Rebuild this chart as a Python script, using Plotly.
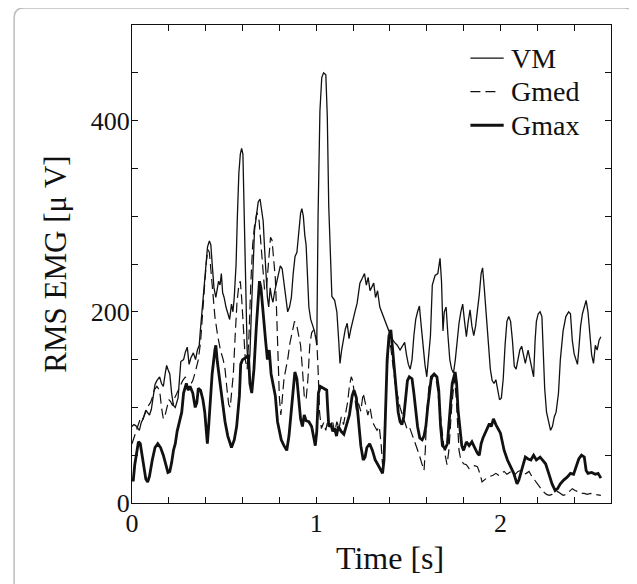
import plotly.graph_objects as go

# ---------------- data ----------------
vm_t = [0.000, 0.010, 0.020, 0.030, 0.040, 0.050, 0.060, 0.075, 0.085, 0.095, 0.105, 0.115, 0.125, 0.135, 0.150,
        0.160, 0.170, 0.180, 0.188, 0.195, 0.205, 0.215, 0.225, 0.235, 0.250, 0.265, 0.280, 0.290, 0.300, 0.310,
        0.320, 0.333, 0.345, 0.355, 0.365, 0.370, 0.380, 0.390, 0.400, 0.410, 0.420, 0.428, 0.436, 0.445, 0.455,
        0.462, 0.470, 0.478, 0.485, 0.492, 0.500, 0.510, 0.520, 0.530, 0.540, 0.548, 0.555, 0.565, 0.572, 0.580,
        0.588, 0.595, 0.602, 0.610, 0.618, 0.625, 0.632, 0.640, 0.648, 0.655, 0.665, 0.675, 0.685, 0.695, 0.705,
        0.712, 0.720, 0.728, 0.735, 0.742, 0.750, 0.758, 0.765, 0.775, 0.785, 0.795, 0.805, 0.815, 0.825, 0.835,
        0.845, 0.855, 0.865, 0.875, 0.885, 0.895, 0.905, 0.915, 0.922, 0.930, 0.938, 0.945, 0.952, 0.960, 0.970,
        0.980, 0.990, 0.998, 1.003, 1.010, 1.020, 1.030, 1.040, 1.052, 1.060, 1.068, 1.078, 1.085, 1.100, 1.112,
        1.122, 1.129, 1.138, 1.148, 1.158, 1.168, 1.178, 1.188, 1.198, 1.210, 1.222, 1.237, 1.250, 1.262, 1.272,
        1.282, 1.292, 1.302, 1.312, 1.322, 1.333, 1.345, 1.355, 1.365, 1.375, 1.390, 1.400, 1.410, 1.425, 1.440,
        1.455, 1.470, 1.480, 1.490, 1.500, 1.510, 1.520, 1.530, 1.540, 1.550, 1.560, 1.570, 1.580, 1.590, 1.600,
        1.610, 1.620, 1.630, 1.645, 1.660, 1.672, 1.680, 1.688, 1.695, 1.705, 1.715, 1.725, 1.735, 1.745, 1.755,
        1.765, 1.775, 1.785, 1.795, 1.805, 1.815, 1.825, 1.835, 1.845, 1.855, 1.865, 1.875, 1.885, 1.895, 1.903,
        1.912, 1.925, 1.935, 1.945, 1.955, 1.965, 1.975, 1.985, 1.995, 2.005, 2.015, 2.025, 2.035, 2.045, 2.055,
        2.065, 2.075, 2.085, 2.095, 2.105, 2.115, 2.125, 2.135, 2.150, 2.160, 2.170, 2.180, 2.188, 2.195, 2.205,
        2.215, 2.225, 2.232, 2.240, 2.250, 2.262, 2.272, 2.282, 2.292, 2.302, 2.315, 2.325, 2.340, 2.355, 2.370,
        2.380, 2.390, 2.400, 2.410, 2.418, 2.425, 2.435, 2.445, 2.455, 2.465, 2.475, 2.485, 2.495, 2.505, 2.515,
        2.525, 2.535, 2.545]
vm_v = [80, 82, 81, 78, 76, 84, 88, 97, 95, 92, 98, 110, 124, 128, 132,
        125, 122, 135, 144, 140, 135, 115, 102, 100, 110, 148, 150, 158, 163, 145,
        152, 157, 150, 160, 165, 178, 200, 222, 250, 268, 274, 270, 248, 225, 215,
        225, 232, 228, 240, 220, 215, 205, 198, 192, 208, 200, 215, 250, 300, 345,
        365, 371, 365, 300, 220, 160, 140, 155, 200, 240, 285, 300, 315, 318, 305,
        295, 265, 232, 215, 205, 225, 215, 210, 222, 232, 240, 248, 245, 230, 210,
        200, 205, 215, 240, 258, 262, 285, 303, 308, 300, 280, 270, 240, 205, 192,
        186, 180, 172, 165, 300, 410, 445, 450, 448, 405, 310, 240, 216, 212, 200,
        170, 146, 160, 172, 182, 188, 172, 182, 192, 200, 209, 230, 235, 240, 228,
        236, 222, 226, 230, 215, 222, 205, 200, 195, 190, 181, 178, 172, 168, 165,
        160, 165, 168, 155, 145, 140, 150, 175, 192, 200, 206, 185, 160, 145, 132,
        150, 175, 228, 238, 240, 256, 232, 180, 200, 205, 175, 150, 140, 136, 150,
        170, 188, 200, 208, 190, 174, 190, 202, 185, 175, 185, 200, 218, 240, 246,
        225, 195, 170, 140, 128, 125, 129, 120, 108, 110, 130, 165, 190, 195, 190,
        170, 143, 140, 150, 160, 164, 155, 146, 160, 150, 138, 132, 170, 190, 198,
        200, 195, 160, 120, 95, 85, 76, 80, 90, 95, 115, 150, 180, 195, 200,
        198, 170, 156, 150, 145, 160, 185, 198, 205, 212, 200, 175, 155, 146, 165,
        160, 170, 174]

gmed_t = [0.000, 0.010, 0.020, 0.030, 0.040, 0.048, 0.060, 0.070, 0.080, 0.090, 0.100, 0.110, 0.120, 0.135, 0.150,
          0.160, 0.170, 0.180, 0.190, 0.200, 0.210, 0.220, 0.232, 0.245, 0.260, 0.275, 0.290, 0.305, 0.318, 0.330,
          0.345, 0.360, 0.372, 0.385, 0.395, 0.405, 0.413, 0.420, 0.430, 0.440, 0.450, 0.465, 0.480, 0.495, 0.505,
          0.515, 0.525, 0.533, 0.540, 0.550, 0.560, 0.570, 0.580, 0.588, 0.595, 0.605, 0.615, 0.625, 0.635, 0.645,
          0.655, 0.665, 0.678, 0.690, 0.700, 0.710, 0.720, 0.730, 0.742, 0.752, 0.760, 0.770, 0.778, 0.785, 0.792,
          0.800, 0.808, 0.815, 0.825, 0.835, 0.845, 0.858, 0.870, 0.882, 0.895, 0.905, 0.915, 0.925, 0.935, 0.945,
          0.955, 0.965, 0.975, 0.985, 0.995, 1.003, 1.010, 1.018, 1.028, 1.040, 1.052, 1.064, 1.076, 1.088, 1.100,
          1.112, 1.124, 1.136, 1.148, 1.160, 1.170, 1.180, 1.190, 1.198, 1.208, 1.218, 1.230, 1.242, 1.255, 1.268,
          1.280, 1.292, 1.305, 1.318, 1.330, 1.342, 1.352, 1.360, 1.368, 1.378, 1.390, 1.400, 1.412, 1.422, 1.432,
          1.442, 1.455, 1.468, 1.480, 1.492, 1.505, 1.518, 1.530, 1.545, 1.560, 1.572, 1.585, 1.592, 1.600, 1.612,
          1.625, 1.640, 1.655, 1.668, 1.680, 1.695, 1.710, 1.720, 1.735, 1.750, 1.760, 1.768, 1.775, 1.785, 1.800,
          1.815, 1.830, 1.845, 1.860, 1.875, 1.890, 1.900, 1.915, 1.930, 1.945, 1.960, 1.975, 1.990, 2.005, 2.020,
          2.035, 2.050, 2.065, 2.080, 2.095, 2.110, 2.125, 2.140, 2.155, 2.170, 2.185, 2.200, 2.215, 2.232, 2.250,
          2.265, 2.280, 2.295, 2.310, 2.325, 2.340, 2.357, 2.372, 2.390, 2.405, 2.420, 2.437, 2.455, 2.470, 2.490,
          2.510, 2.530, 2.545]
gmed_v = [62, 68, 74, 78, 84, 90, 88, 94, 98, 102, 105, 110, 118, 122, 118,
          100, 88, 92, 102, 108, 106, 102, 110, 116, 122, 128, 132, 118, 124, 128,
          138, 150, 168, 198, 230, 255, 265, 262, 240, 218, 195, 175, 160, 150, 140,
          120, 103, 100, 115, 135, 175, 210, 228, 232, 215, 175, 150, 140, 175, 230,
          270, 290, 304, 295, 270, 240, 222, 225, 255, 278, 275, 250, 235, 200, 150,
          110, 92, 105, 130, 140, 150, 168, 180, 190, 185, 175, 165, 140, 112, 108,
          130, 165, 178, 181, 174, 170, 140, 95, 78, 84, 76, 88, 80, 86, 74,
          85, 78, 90, 82, 95, 105, 122, 132, 128, 110, 97, 104, 96, 115, 104,
          92, 100, 85, 80, 76, 80, 62, 40, 55, 110, 160, 170, 150, 130, 120,
          112, 100, 92, 84, 78, 80, 73, 66, 59, 50, 42, 34, 55, 95, 122,
          128, 135, 125, 100, 80, 55, 40, 55, 100, 130, 110, 75, 55, 45, 41,
          40, 36, 38, 39, 38, 30, 22, 25, 27, 28, 29, 31, 29, 31, 33,
          30, 32, 34, 30, 33, 34, 30, 31, 33, 28, 24, 20, 17, 12, 9,
          8, 9, 11, 12, 10, 8, 9, 12, 15, 13, 12, 10, 10, 9, 10,
          9, 8, 8]

gmax_t = [0.000, 0.007, 0.015, 0.025, 0.035, 0.045, 0.055, 0.065, 0.075, 0.085, 0.095, 0.110, 0.125, 0.140, 0.155,
          0.170, 0.185, 0.195, 0.205, 0.215, 0.225, 0.235, 0.245, 0.255, 0.270, 0.280, 0.295, 0.305, 0.315, 0.330,
          0.343, 0.352, 0.360, 0.372, 0.385, 0.395, 0.403, 0.409, 0.416, 0.425, 0.435, 0.450, 0.455, 0.463, 0.478,
          0.490, 0.505, 0.520, 0.533, 0.540, 0.555, 0.568, 0.583, 0.590, 0.600, 0.618, 0.632, 0.640, 0.650, 0.662,
          0.675, 0.685, 0.692, 0.700, 0.712, 0.725, 0.735, 0.745, 0.755, 0.768, 0.778, 0.790, 0.800, 0.810, 0.825,
          0.840, 0.852, 0.865, 0.875, 0.884, 0.895, 0.905, 0.915, 0.925, 0.935, 0.945, 0.960, 0.975, 0.985, 0.995,
          1.003, 1.012, 1.022, 1.040, 1.057, 1.062, 1.068, 1.080, 1.090, 1.100, 1.110, 1.120, 1.135, 1.150, 1.160,
          1.170, 1.180, 1.195, 1.205, 1.218, 1.230, 1.242, 1.255, 1.265, 1.275, 1.290, 1.305, 1.320, 1.335, 1.350,
          1.360, 1.368, 1.376, 1.385, 1.395, 1.405, 1.415, 1.425, 1.435, 1.445, 1.455, 1.465, 1.475, 1.485, 1.495,
          1.505, 1.520, 1.530, 1.540, 1.550, 1.562, 1.575, 1.585, 1.595, 1.605, 1.615, 1.625, 1.640, 1.655, 1.665,
          1.675, 1.685, 1.700, 1.712, 1.725, 1.738, 1.754, 1.762, 1.770, 1.780, 1.790, 1.800, 1.815, 1.830, 1.845,
          1.860, 1.875, 1.885, 1.895, 1.905, 1.925, 1.940, 1.950, 1.962, 1.975, 1.990, 2.000, 2.020, 2.038, 2.055,
          2.072, 2.090, 2.100, 2.110, 2.125, 2.135, 2.150, 2.165, 2.180, 2.195, 2.215, 2.230, 2.245, 2.262, 2.280,
          2.297, 2.310, 2.325, 2.343, 2.362, 2.380, 2.397, 2.405, 2.415, 2.425, 2.440, 2.455, 2.465, 2.475, 2.495,
          2.515, 2.530, 2.545]
gmax_v = [24, 24, 40, 55, 64, 62, 48, 35, 25, 22, 28, 45, 58, 62, 58,
          50, 38, 32, 33, 42, 55, 62, 75, 82, 95, 115, 125, 118, 122, 115,
          100, 105, 120, 118, 108, 95, 80, 62, 80, 110, 135, 160, 165, 148, 125,
          110, 85, 70, 62, 58, 66, 80, 112, 145, 150, 152, 155, 125, 115, 140,
          185, 215, 232, 225, 195, 170, 150, 160, 135, 120, 112, 85, 75, 66, 60,
          55, 70, 100, 125, 137, 130, 110, 88, 80, 92, 86, 85, 80, 68, 60,
          75, 115, 122, 120, 118, 100, 80, 82, 75, 78, 70, 80, 75, 72, 78,
          85, 92, 112, 118, 110, 85, 60, 45, 48, 58, 62, 55, 45, 40, 35,
          31, 45, 100, 150, 175, 181, 160, 140, 115, 95, 85, 82, 90, 110, 128,
          132, 130, 115, 95, 80, 68, 66, 70, 80, 100, 120, 132, 135, 132, 118,
          80, 60, 57, 62, 97, 125, 137, 125, 97, 80, 60, 55, 64, 60, 64,
          58, 52, 50, 62, 68, 76, 83, 80, 88, 82, 76, 73, 55, 45, 38,
          31, 20, 24, 31, 41, 48, 46, 45, 50, 45, 48, 45, 41, 31, 20,
          13, 15, 20, 24, 27, 31, 30, 34, 40, 46, 50, 48, 34, 31, 32,
          30, 31, 26]

series_names = ["VM", "Gmed", "Gmax"]

x_tickvals = [0, 0.2, 0.4, 0.6, 0.8, 1.0, 1.2, 1.4, 1.6, 1.8, 2.0, 2.2, 2.4]
x_ticktext = ["0", "", "", "", "", "1", "", "", "", "", "2", "", ""]
y_tickvals = [0, 50, 100, 150, 200, 250, 300, 350, 400, 450]
y_ticktext = ["0", "", "", "", "200", "", "", "", "400", ""]
x_title = "Time [s]"
y_title = "RMS EMG [μ V]"

# ---------------- figure ----------------
FONT = "Liberation Serif, Times New Roman, serif"
INK = "#111111"
styles = [dict(color=INK, width=1.3),
          dict(color=INK, width=1.2, dash="10px,5px"),
          dict(color=INK, width=2.8)]

fig = go.Figure()
for name, tt, vv, st in zip(series_names, [vm_t, gmed_t, gmax_t], [vm_v, gmed_v, gmax_v], styles):
    fig.add_trace(go.Scatter(x=tt, y=vv, mode="lines", name=name, line=st, showlegend=False))

axis_common = dict(
    showgrid=False, zeroline=False, showline=True, linecolor=INK, linewidth=1.3,
    mirror="ticks", ticks="inside", ticklen=6, tickwidth=1, tickcolor=INK,
    tickfont=dict(family=FONT, size=26, color=INK), automargin=False,
)

fig.update_xaxes(range=[0, 2.6], tickmode="array", tickvals=x_tickvals, ticktext=x_ticktext,
                 ticklabelstandoff=-3, **axis_common)
fig.update_yaxes(range=[0, 500], tickmode="array", tickvals=y_tickvals, ticktext=y_ticktext,
                 ticklabelstandoff=-4,
                 title=dict(text=y_title, font=dict(family=FONT, size=31, color=INK), standoff=14),
                 **axis_common)

# x-axis title (placed slightly right of centre, as in the reference)
fig.add_annotation(xref="paper", yref="paper", x=0.538, y=-0.116, xanchor="center", yanchor="middle",
                   text=x_title, showarrow=False, font=dict(family=FONT, size=32, color=INK))

# manual legend (line sample + label), paper coordinates
leg_y = [0.9307, 0.8605, 0.7903]
leg_x1 = [0.776, 0.7587, 0.776]
for name, st, yy, xe in zip(series_names, styles, leg_y, leg_x1):
    fig.add_shape(type="line", xref="paper", yref="paper", x0=0.7065, x1=xe, y0=yy, y1=yy,
                  line=st)
    fig.add_annotation(xref="paper", yref="paper", x=0.788, y=yy, xanchor="left", yanchor="middle",
                       text=name, showarrow=False, font=dict(family=FONT, size=28, color=INK))

# rounded light-grey frame around the whole figure (paper coordinates)
x0, x1, yt, yb = -0.2461, 1.0482, 1.0358, -0.2454
rx, ry = 0.021, 0.021
path = (f"M {x0+rx},{yt} L {x1-rx},{yt} Q {x1},{yt} {x1},{yt-ry} L {x1},{yb} "
        f"L {x0},{yb} L {x0},{yt-ry} Q {x0},{yt} {x0+rx},{yt} Z")
fig.add_shape(type="path", path=path, xref="paper", yref="paper",
              line=dict(color="#bdbdbd", width=1.5), layer="below")

# the page body adds an 8 px offset; the figure is sized to fill the rest of the window
fig.update_layout(
    width=629, height=576,
    margin=dict(l=124, r=25.6, t=17.3, b=81.2),
    paper_bgcolor="white", plot_bgcolor="white",
    font=dict(family=FONT, color=INK),
    showlegend=False,
)

fig.write_html("out.html")
